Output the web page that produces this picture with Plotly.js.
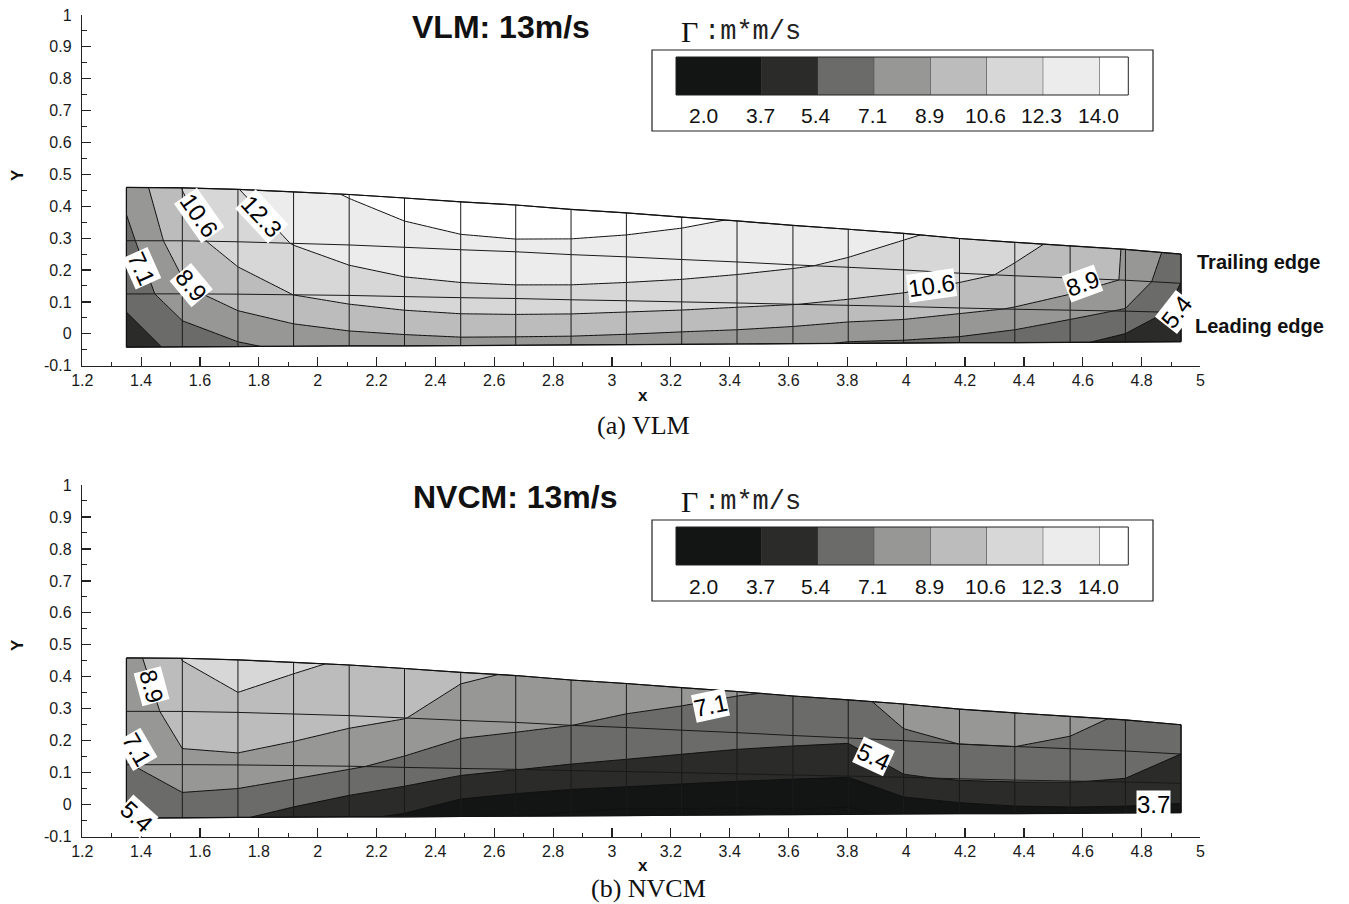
<!DOCTYPE html>
<html>
<head>
<meta charset="utf-8">
<script src="https://cdn.plot.ly/plotly-3.0.1.min.js"></script>
<style>
html,body{margin:0;padding:0;background:#fff;}
#chart{width:1349px;height:904px;}
</style>
</head>
<body>
<div id="chart"></div>
<script>
// ---------------- data ----------------
// spanwise mesh stations (x) and wing outline
const spanX = [1.350, 1.540, 1.729, 1.918, 2.107, 2.295, 2.486, 2.673, 2.861, 3.049,
               3.237, 3.425, 3.615, 3.803, 3.991, 4.181, 4.369, 4.557, 4.745, 4.934];
const leadingEdgeY = [-0.042, -0.041, -0.040, -0.039, -0.038, -0.038, -0.037, -0.036, -0.035, -0.034,
                      -0.033, -0.032, -0.031, -0.030, -0.029, -0.028, -0.028, -0.027, -0.026, -0.025];
const trailingEdgeY = [0.459, 0.458, 0.453, 0.445, 0.437, 0.426, 0.414, 0.404, 0.390, 0.379,
                       0.366, 0.354, 0.340, 0.328, 0.315, 0.299, 0.287, 0.276, 0.265, 0.250];
// chordwise mesh rows (fraction of local chord, leading edge -> trailing edge)
const chordFractions = [0, 1/3, 2/3, 1];

// circulation Gamma (m*m/s) at mesh nodes, VLM
const vlmLeadingEdge = [4.50, 5.98, 6.88, 7.53, 7.90, 8.06, 8.24, 8.21, 8.18, 8.06,
                        7.88, 7.77, 7.51, 7.00, 6.91, 6.69, 6.13, 5.76, 4.84, 4.00];
const vlmRow1 = [5.91, 8.34, 9.77, 10.58, 11.13, 11.53, 11.75, 11.79, 11.66, 11.44,
                 11.21, 10.90, 10.60, 10.30, 9.93, 9.28, 8.75, 7.70, 6.99, 4.84];
const vlmRow2 = [6.60, 10.01, 11.31, 12.35, 13.06, 13.42, 13.44, 13.49, 13.55, 13.47,
                 13.23, 12.90, 12.46, 12.00, 11.65, 11.04, 10.30, 10.03, 8.70, 5.40];
const vlmTrailingEdge = [7.71, 10.60, 12.25, 13.58, 14.08, 14.51, 15.18, 15.37, 14.84, 14.53,
                         14.27, 13.92, 13.50, 13.10, 12.43, 11.95, 11.00, 10.18, 8.74, 6.29];

// circulation Gamma (m*m/s) at mesh nodes, NVCM
const nvcmLeadingEdge = [5.38, 5.86, 5.60, 4.80, 4.01, 3.49, 2.44, 2.10, 1.71, 1.47,
                         1.54, 1.56, 1.68, 1.60, 2.34, 2.87, 3.18, 3.28, 3.28, 3.30];
const nvcmRow1 = [7.00, 8.55, 8.40, 7.97, 7.35, 6.62, 5.94, 5.46, 5.14, 4.90,
                  4.50, 4.20, 3.95, 3.78, 5.30, 5.55, 5.56, 5.51, 5.25, 4.60];
const nvcmRow2 = [7.80, 9.57, 10.40, 9.87, 9.36, 8.90, 7.87, 7.59, 7.15, 6.80,
                  6.64, 6.27, 5.96, 5.70, 6.80, 7.15, 7.15, 6.70, 6.75, 5.42];
const nvcmTrailingEdge = [8.14, 10.62, 10.85, 10.77, 10.42, 10.10, 9.17, 8.71, 8.20, 7.90,
                          7.52, 7.25, 6.98, 6.60, 7.85, 8.20, 8.30, 7.84, 6.81, 6.30];

// contour levels and band colours (band 0 = below first level)
const contourLevels = [2.0, 3.7, 5.4, 7.1, 8.9, 10.6, 12.3, 14.0];
const levelStart = 2, levelEnd = 14, levelStep = 12 / 7;
const bandColors = ['#131514', '#131514', '#2b2b2a', '#6b6b6a', '#979796',
                    '#bcbcbc', '#d7d7d7', '#ececec', '#ffffff'];

// axis tick labels
const yTickVals = [-0.1, 0, 0.1, 0.2, 0.3, 0.4, 0.5, 0.6, 0.7, 0.8, 0.9, 1];
const yTickText = ['-0.1', '0', '0.1', '0.2', '0.3', '0.4', '0.5', '0.6', '0.7', '0.8', '0.9', '1'];
const xTickVals = [1.2, 1.4, 1.6, 1.8, 2, 2.2, 2.4, 2.6, 2.8, 3, 3.2, 3.4, 3.6, 3.8, 4, 4.2, 4.4, 4.6, 4.8, 5];
const xTickText = ['1.2', '1.4', '1.6', '1.8', '2', '2.2', '2.4', '2.6', '2.8', '3', '3.2', '3.4', '3.6', '3.8', '4', '4.2', '4.4', '4.6', '4.8', '5'];

// ---------------- build ----------------
const W = 1349, H = 904;
const px = v => v / W;
const py = v => 1 - v / H;

const meshX = chordFractions.map(() => spanX.slice());
const meshY = chordFractions.map(f => spanX.map((_, i) => leadingEdgeY[i] + f * (trailingEdgeY[i] - leadingEdgeY[i])));

const colorscale = bandColors.map((c, k) => [k / (bandColors.length - 1), c]);

const carpetAxis = {
  smoothing: 0, tickmode: 'array', arraydtick: 1, showticklabels: 'none',
  showgrid: true, gridcolor: '#1a1a1a', gridwidth: 1, minorgridcount: 0,
  startline: true, endline: true, startlinecolor: '#111', endlinecolor: '#111',
  startlinewidth: 1.2, endlinewidth: 1.2, showline: false, title: {text: ''}
};

function carpet(id, xa, ya) {
  return {type: 'carpet', carpet: id, a: spanX, b: chordFractions, x: meshX, y: meshY,
          xaxis: xa, yaxis: ya, aaxis: carpetAxis, baxis: carpetAxis};
}
function contour(id, xa, ya, rows) {
  return {type: 'contourcarpet', carpet: id, a: spanX, b: chordFractions, z: rows,
          xaxis: xa, yaxis: ya, autocontour: false,
          contours: {start: levelStart, end: levelEnd, size: levelStep, coloring: 'fill', showlines: true},
          line: {color: '#111', width: 1, smoothing: 0},
          colorscale: colorscale, showscale: false, hoverinfo: 'skip'};
}

const data = [
  contour('vlm', 'x', 'y', [vlmLeadingEdge, vlmRow1, vlmRow2, vlmTrailingEdge]),
  carpet('vlm', 'x', 'y'),
  contour('nvcm', 'x2', 'y2', [nvcmLeadingEdge, nvcmRow1, nvcmRow2, nvcmTrailingEdge]),
  carpet('nvcm', 'x2', 'y2')
];

const tickFont = {family: 'Liberation Sans, Arial, sans-serif', size: 16, color: '#1a1a1a'};
function xAxis(anchor) {
  return {domain: [0.0610, 0.8899], range: [1.2, 5], anchor: anchor,
          tickmode: 'array', tickvals: xTickVals, ticktext: xTickText,
          ticks: 'inside', ticklen: 9, tickwidth: 1.2, tickcolor: '#222',
          minor: {tickmode: 'linear', tick0: 1.2, dtick: 0.1, ticks: 'inside', ticklen: 4, tickwidth: 1, tickcolor: '#222'},
          showline: true, linecolor: '#222', linewidth: 1.5, showgrid: false, zeroline: false,
          tickfont: tickFont, ticklabelstandoff: 0};
}
function yAxis(domain, anchor) {
  return {domain: domain, range: [-0.1, 1], anchor: anchor,
          tickmode: 'array', tickvals: yTickVals, ticktext: yTickText,
          ticks: 'inside', ticklen: 9, tickwidth: 1.2, tickcolor: '#222',
          minor: {tickmode: 'linear', tick0: -0.1, dtick: 0.05, ticks: 'inside', ticklen: 5, tickwidth: 1, tickcolor: '#222'},
          showline: true, linecolor: '#222', linewidth: 1.5, showgrid: false, zeroline: false,
          tickfont: tickFont, ticklabelstandoff: 6};
}

// legend (Tecplot style) built from contourLevels / bandColors
const levelPx0 = 705.3, stepPx = 56.33, leftPx = 676, rightPx = 1128.3;
function legendShapes(dy) {
  const shapes = [];
  shapes.push({type: 'rect', xref: 'paper', yref: 'paper', x0: px(652), x1: px(1153), y0: py(50 + dy), y1: py(131 + dy),
               line: {color: '#222', width: 1.2}, fillcolor: '#fff', layer: 'above'});
  const edges = [leftPx].concat(contourLevels.map((_, k) => levelPx0 + k * stepPx)).concat([rightPx]);
  // merge neighbouring bands of identical colour into one swatch
  let k = 0;
  while (k < bandColors.length) {
    let m = k;
    while (m + 1 < bandColors.length && bandColors[m + 1] === bandColors[k]) m++;
    shapes.push({type: 'rect', xref: 'paper', yref: 'paper', x0: px(edges[k]), x1: px(edges[m + 1]),
                 y0: py(57 + dy), y1: py(95 + dy), fillcolor: bandColors[k], line: {width: 0}, layer: 'above'});
    if (m + 1 < bandColors.length) {
      shapes.push({type: 'line', xref: 'paper', yref: 'paper', x0: px(edges[m + 1]), x1: px(edges[m + 1]),
                   y0: py(57 + dy), y1: py(95 + dy), line: {color: '#333', width: 1}, layer: 'above'});
    }
    k = m + 1;
  }
  shapes.push({type: 'rect', xref: 'paper', yref: 'paper', x0: px(leftPx), x1: px(rightPx), y0: py(57 + dy), y1: py(95 + dy),
               line: {color: '#222', width: 1}, fillcolor: 'rgba(0,0,0,0)', layer: 'above'});
  return shapes;
}
function legendAnnotations(dy) {
  const ann = contourLevels.map((v, k) => ({
    xref: 'paper', yref: 'paper', x: px(levelPx0 + k * stepPx - 1.5), y: py(116 + dy), text: v.toFixed(1),
    showarrow: false, xanchor: 'center', yanchor: 'middle',
    font: {family: 'Liberation Sans, Arial, sans-serif', size: 21, color: '#111'}
  }));
  ann.push({xref: 'paper', yref: 'paper', x: px(679), y: py(31 + dy), text: 'Γ', showarrow: false,
            xanchor: 'left', yanchor: 'middle', font: {family: 'Liberation Serif, Times New Roman, serif', size: 30, color: '#111'}});
  ann.push({xref: 'paper', yref: 'paper', x: px(702), y: py(32 + dy), text: ':m*m/s', showarrow: false,
            xanchor: 'left', yanchor: 'middle', font: {family: 'Liberation Mono, Courier New, monospace', size: 27, color: '#222'}});
  return ann;
}

function txt(x, y, text, opts) {
  return Object.assign({xref: 'paper', yref: 'paper', x: px(x), y: py(y), text: text, showarrow: false,
                        xanchor: 'center', yanchor: 'middle'}, opts);
}
const sans = 'Liberation Sans, Arial, sans-serif';
const serif = 'Liberation Serif, Times New Roman, serif';

function contourLabel(xref, yref, x, y, text, angle) {
  return {xref: xref, yref: yref, x: x, y: y, text: text, textangle: angle, showarrow: false,
          xanchor: 'center', yanchor: 'middle', bgcolor: '#ffffff', borderpad: 0,
          font: {family: sans, size: 24, color: '#000'}};
}

const annotations = [
  txt(501, 27, '<b>VLM: 13m/s</b>', {font: {family: sans, size: 32, color: '#111'}}),
  txt(515.5, 497, '<b>NVCM: 13m/s</b>', {font: {family: sans, size: 32, color: '#111'}}),
  txt(643, 425, '(a) VLM', {font: {family: serif, size: 26, color: '#111'}}),
  txt(648, 888, '(b) NVCM', {font: {family: serif, size: 26, color: '#111'}}),
  txt(643, 395, '<b>x</b>', {font: {family: sans, size: 17, color: '#111'}}),
  txt(643, 865, '<b>x</b>', {font: {family: sans, size: 17, color: '#111'}}),
  txt(17, 175, '<b>Y</b>', {textangle: -90, font: {family: sans, size: 17, color: '#111'}}),
  txt(17, 645, '<b>Y</b>', {textangle: -90, font: {family: sans, size: 17, color: '#111'}}),
  txt(1195, 262, '<b>Trailing edge</b>', {xanchor: 'left', font: {family: sans, size: 20, color: '#111'}}),
  txt(1193, 326, '<b>Leading edge</b>', {xanchor: 'left', font: {family: sans, size: 20, color: '#111'}}),
  // VLM contour labels
  contourLabel('x', 'y', 1.598, 0.372, '10.6', 55),
  contourLabel('x', 'y', 1.810, 0.367, '12.3', 47),
  contourLabel('x', 'y', 1.402, 0.205, '7.1', 66),
  contourLabel('x', 'y', 1.572, 0.153, '8.9', 50),
  contourLabel('x', 'y', 4.087, 0.153, '10.6', -8),
  contourLabel('x', 'y', 4.599, 0.158, '8.9', -20),
  contourLabel('x', 'y', 4.920, 0.069, '5.4', -52),
  // NVCM contour labels
  contourLabel('x2', 'y2', 1.436, 0.370, '8.9', 75),
  contourLabel('x2', 'y2', 1.385, 0.172, '7.1', 60),
  contourLabel('x2', 'y2', 1.385, -0.037, '5.4', 42),
  contourLabel('x2', 'y2', 3.334, 0.310, '7.1', -12),
  contourLabel('x2', 'y2', 3.889, 0.151, '5.4', 25),
  contourLabel('x2', 'y2', 4.840, 0.002, '3.7', 0)
].concat(legendAnnotations(0), legendAnnotations(470));

const layout = {
  width: W, height: H,
  margin: {l: 0, r: 0, t: 0, b: 0},
  paper_bgcolor: '#fff', plot_bgcolor: 'rgba(0,0,0,0)',
  showlegend: false,
  xaxis: xAxis('y'),
  yaxis: yAxis([0.5955, 0.9834], 'x'),
  xaxis2: xAxis('y2'),
  yaxis2: yAxis([0.0745, 0.4635], 'x2'),
  shapes: legendShapes(0).concat(legendShapes(470)),
  annotations: annotations,
  font: {family: sans, color: '#111'}
};

Plotly.newPlot('chart', data, layout, {staticPlot: true});
</script>
</body>
</html>
